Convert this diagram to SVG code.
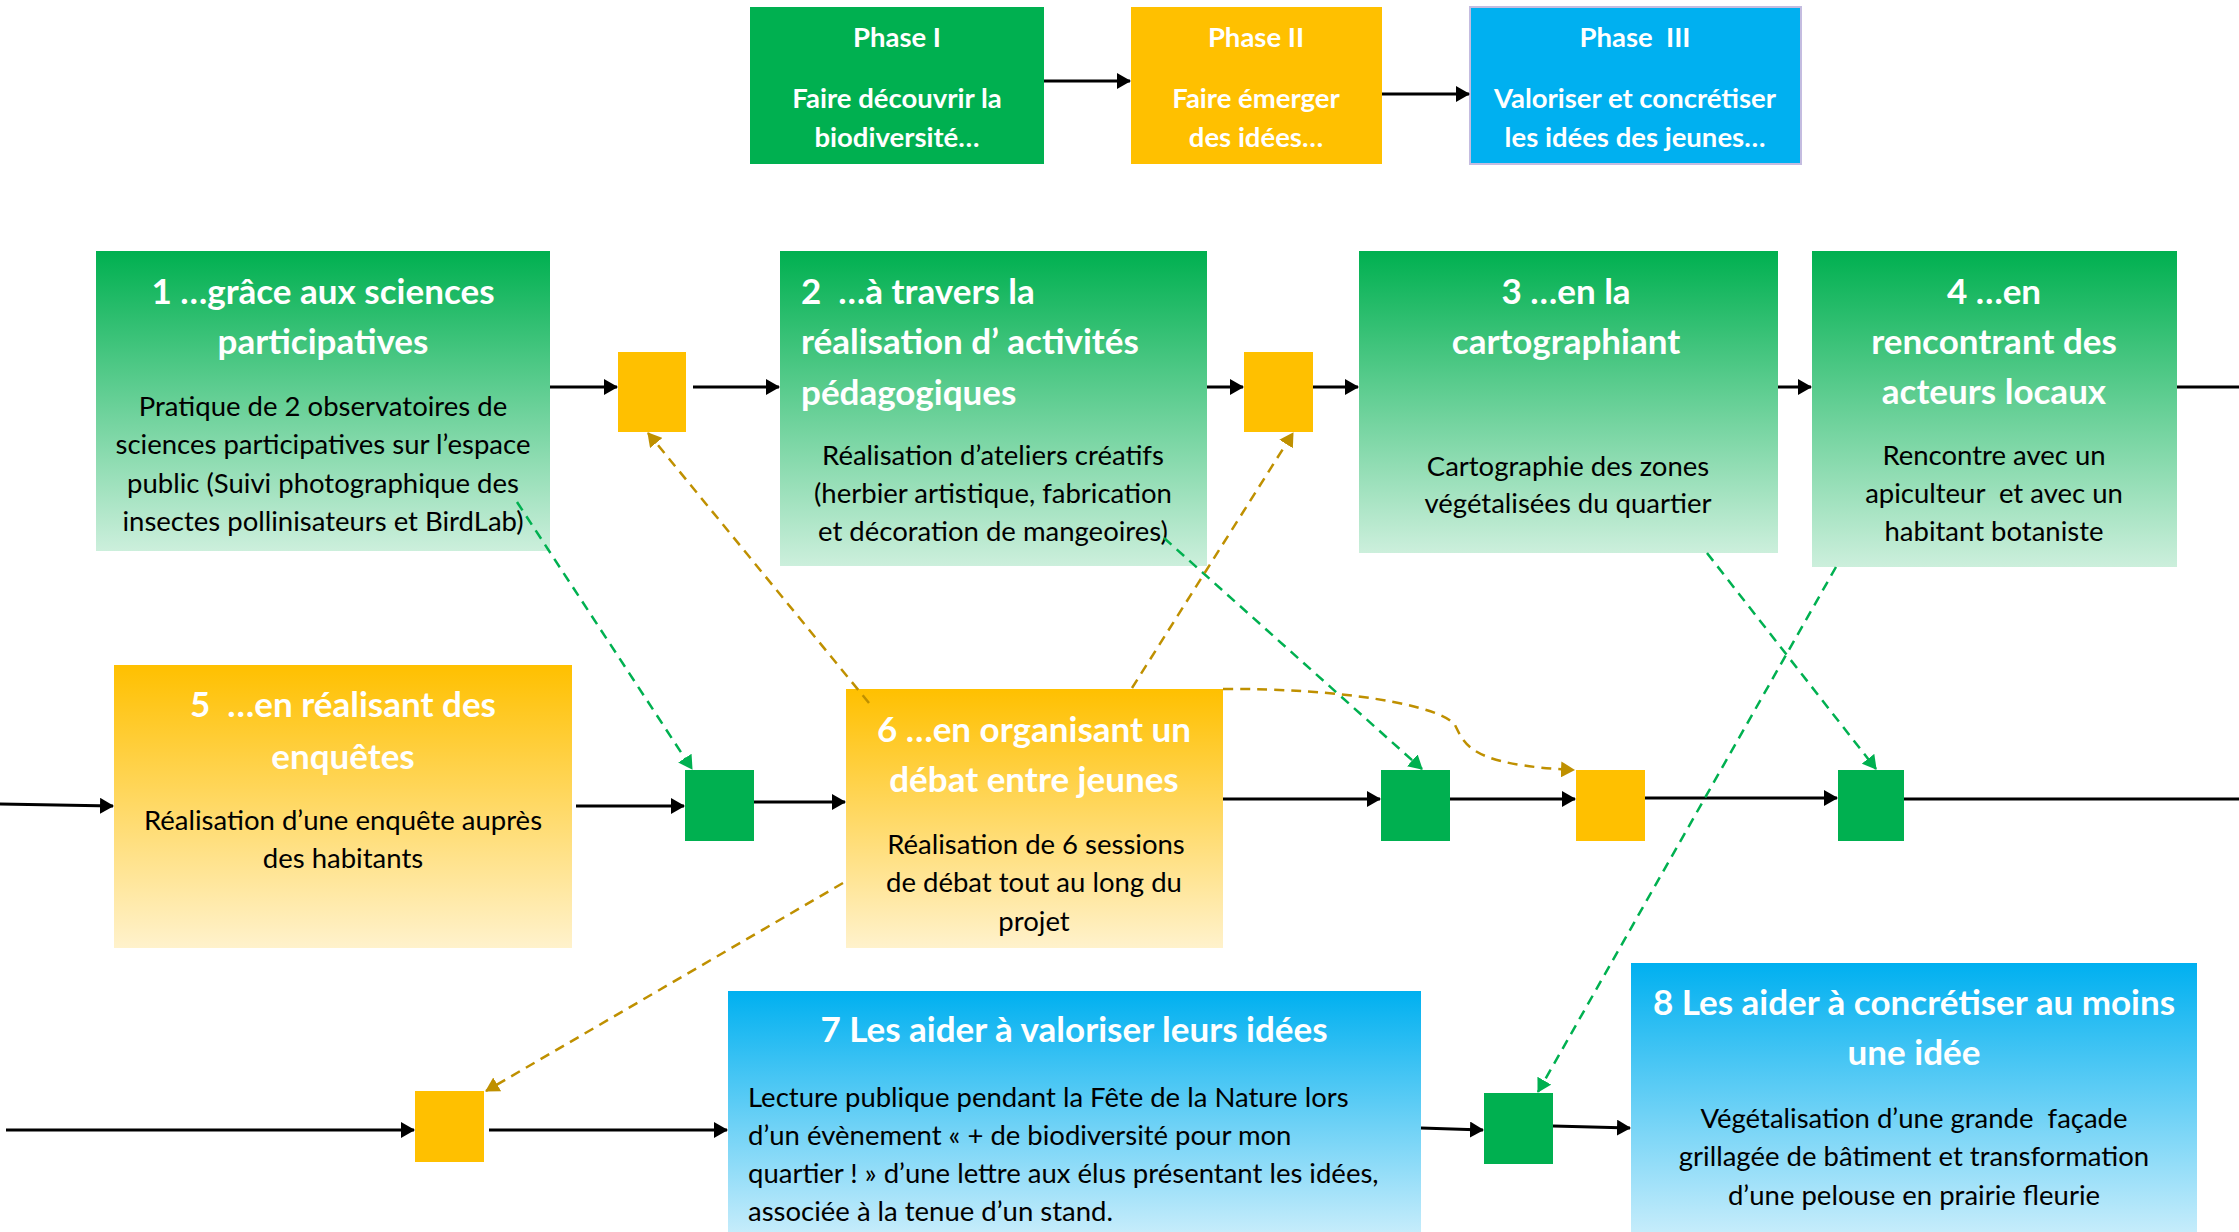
<svg xmlns="http://www.w3.org/2000/svg" width="2239" height="1232" viewBox="0 0 2239 1232">
<defs>
<linearGradient id="gG" x1="0" y1="0" x2="0" y2="1"><stop offset="0" stop-color="#00B050"/><stop offset="1" stop-color="#CCEFDC"/></linearGradient>
<linearGradient id="gY" x1="0" y1="0" x2="0" y2="1"><stop offset="0" stop-color="#FFC000"/><stop offset="1" stop-color="#FFF2CC"/></linearGradient>
<linearGradient id="gB" x1="0" y1="0" x2="0" y2="1"><stop offset="0" stop-color="#00B0F0"/><stop offset="1" stop-color="#C8EDFB"/></linearGradient>
<marker id="ab" markerWidth="14" markerHeight="16" refX="13" refY="8" orient="auto" markerUnits="userSpaceOnUse"><path d="M0,0 L14,8 L0,16 z" fill="#000"/></marker>
<marker id="ag" markerWidth="14" markerHeight="16" refX="13" refY="8" orient="auto" markerUnits="userSpaceOnUse"><path d="M0,0 L14,8 L0,16 z" fill="#00B050"/></marker>
<marker id="ay" markerWidth="14" markerHeight="16" refX="13" refY="8" orient="auto" markerUnits="userSpaceOnUse"><path d="M0,0 L14,8 L0,16 z" fill="#BF9000"/></marker>
</defs>
<style>
text{font-family:Lato,"Liberation Sans",sans-serif;white-space:pre}
.p{font-size:27.5px;font-weight:bold;fill:#fff;text-anchor:middle}
.t{font-size:35px;font-weight:bold;fill:#fff;text-anchor:middle}
.tl{font-size:35px;font-weight:bold;fill:#fff}
.b{font-size:27.5px;fill:#000;text-anchor:middle}
.bl{font-size:27.5px;fill:#000}
.k{stroke:#000;stroke-width:3;fill:none}
.dg{stroke:#00B050;stroke-width:2.5;stroke-dasharray:10 7;fill:none}
.dy{stroke:#BF9000;stroke-width:2.5;stroke-dasharray:10 7;fill:none}
.sg{fill:#00B050}
.sy{fill:#FFC000}
</style>
<rect width="2239" height="1232" fill="#fff"/>

<g id="phase1"><rect x="750" y="7" width="294" height="157" fill="#00B050"/>
<text class="p" x="897" y="47">Phase I</text>
<text class="p" x="897" y="108">Faire découvrir la</text>
<text class="p" x="897" y="147">biodiversité…</text></g>
<g id="phase2"><rect x="1131" y="7" width="251" height="157" fill="#FFC000"/>
<text class="p" x="1256" y="47">Phase II</text>
<text class="p" x="1256" y="108">Faire émerger</text>
<text class="p" x="1256" y="147">des idées…</text></g>
<g id="phase3"><rect x="1470" y="7" width="331" height="157" fill="#00B0F0" stroke="#C4BCE0" stroke-width="2"/>
<text class="p" x="1635" y="47">Phase  III</text>
<text class="p" x="1635" y="108">Valoriser et concrétiser</text>
<text class="p" x="1635" y="147">les idées des jeunes…</text></g>

<g id="n1"><rect x="96" y="251" width="454" height="300" fill="url(#gG)"/>
<text class="t" x="323" y="304">1 …grâce aux sciences</text>
<text class="t" x="323" y="354">participatives</text>
<text class="b" x="323" y="416">Pratique de 2 observatoires de</text>
<text class="b" x="323" y="454">sciences participatives sur l’espace</text>
<text class="b" x="323" y="493">public (Suivi photographique des</text>
<text class="b" x="323" y="531">insectes pollinisateurs et BirdLab)</text></g>
<g id="n2"><rect x="780" y="251" width="427" height="315" fill="url(#gG)"/>
<text class="tl" x="801" y="304">2  …à travers la</text>
<text class="tl" x="801" y="354">réalisation d’ activités</text>
<text class="tl" x="801" y="405">pédagogiques</text>
<text class="b" x="993" y="465">Réalisation d’ateliers créatifs</text>
<text class="b" x="993" y="503">(herbier artistique, fabrication</text>
<text class="b" x="993" y="541">et décoration de mangeoires)</text></g>
<g id="n3"><rect x="1359" y="251" width="419" height="302" fill="url(#gG)"/>
<text class="t" x="1566" y="304">3 …en la</text>
<text class="t" x="1566" y="354">cartographiant</text>
<text class="b" x="1568" y="476">Cartographie des zones</text>
<text class="b" x="1568" y="513">végétalisées du quartier</text></g>
<g id="n4"><rect x="1812" y="251" width="365" height="316" fill="url(#gG)"/>
<text class="t" x="1994" y="304">4 …en</text>
<text class="t" x="1994" y="354">rencontrant des</text>
<text class="t" x="1994" y="404">acteurs locaux</text>
<text class="b" x="1994" y="465">Rencontre avec un</text>
<text class="b" x="1994" y="503">apiculteur  et avec un</text>
<text class="b" x="1994" y="541">habitant botaniste</text></g>
<g id="n5"><rect x="114" y="665" width="458" height="283" fill="url(#gY)"/>
<text class="t" x="343" y="717">5  …en réalisant des</text>
<text class="t" x="343" y="769">enquêtes</text>
<text class="b" x="343" y="830">Réalisation d’une enquête auprès</text>
<text class="b" x="343" y="868">des habitants</text></g>
<g id="n6"><rect x="846" y="689" width="377" height="259" fill="url(#gY)"/>
<text class="t" x="1034" y="742">6 …en organisant un</text>
<text class="t" x="1034" y="792">débat entre jeunes</text>
<text class="b" x="1036" y="854">Réalisation de 6 sessions</text>
<text class="b" x="1034" y="892">de débat tout au long du</text>
<text class="b" x="1034" y="931">projet</text></g>
<g id="n7"><rect x="728" y="991" width="693" height="245" fill="url(#gB)"/>
<text class="t" x="1074" y="1042">7 Les aider à valoriser leurs idées</text>
<text class="bl" x="748" y="1107">Lecture publique pendant la Fête de la Nature lors</text>
<text class="bl" x="748" y="1145">d’un évènement « + de biodiversité pour mon</text>
<text class="bl" x="748" y="1183">quartier ! » d’une lettre aux élus présentant les idées,</text>
<text class="bl" x="748" y="1221">associée à la tenue d’un stand.</text></g>
<g id="n8"><rect x="1631" y="963" width="566" height="273" fill="url(#gB)"/>
<text class="t" x="1914" y="1015">8 Les aider à concrétiser au moins</text>
<text class="t" x="1914" y="1065">une idée</text>
<text class="b" x="1914" y="1128">Végétalisation d’une grande  façade</text>
<text class="b" x="1914" y="1166">grillagée de bâtiment et transformation</text>
<text class="b" x="1914" y="1205">d’une pelouse en prairie fleurie</text></g>

<g id="sqA"><rect class="sy" x="618" y="352" width="68" height="80"/></g>
<g id="sqB"><rect class="sy" x="1244" y="352" width="69" height="80"/></g>
<g id="sqC"><rect class="sg" x="685" y="770" width="69" height="71"/></g>
<g id="sqD"><rect class="sg" x="1381" y="770" width="69" height="71"/></g>
<g id="sqE"><rect class="sy" x="1576" y="770" width="69" height="71"/></g>
<g id="sqF"><rect class="sg" x="1838" y="770" width="66" height="71"/></g>
<g id="sqG"><rect class="sg" x="1484" y="1093" width="69" height="71"/></g>
<g id="sqH"><rect class="sy" x="415" y="1091" width="69" height="71"/></g>

<g id="connectors">
<line class="k" x1="1044" y1="81" x2="1130" y2="81" marker-end="url(#ab)"/>
<line class="k" x1="1382" y1="94" x2="1469" y2="94" marker-end="url(#ab)"/>
<line class="k" x1="550" y1="387" x2="617" y2="387" marker-end="url(#ab)"/>
<line class="k" x1="693" y1="387" x2="779" y2="387" marker-end="url(#ab)"/>
<line class="k" x1="1207" y1="387" x2="1243" y2="387" marker-end="url(#ab)"/>
<line class="k" x1="1313" y1="387" x2="1358" y2="387" marker-end="url(#ab)"/>
<line class="k" x1="1778" y1="387" x2="1811" y2="387" marker-end="url(#ab)"/>
<line class="k" x1="2177" y1="387" x2="2239" y2="387"/>
<line class="k" x1="0" y1="804" x2="113" y2="806" marker-end="url(#ab)"/>
<line class="k" x1="576" y1="806" x2="684" y2="806" marker-end="url(#ab)"/>
<line class="k" x1="754" y1="802" x2="845" y2="802" marker-end="url(#ab)"/>
<line class="k" x1="1223" y1="799" x2="1380" y2="799" marker-end="url(#ab)"/>
<line class="k" x1="1450" y1="799" x2="1575" y2="799" marker-end="url(#ab)"/>
<line class="k" x1="1645" y1="798" x2="1837" y2="798" marker-end="url(#ab)"/>
<line class="k" x1="1904" y1="799" x2="2239" y2="799"/>
<line class="k" x1="6" y1="1130" x2="414" y2="1130" marker-end="url(#ab)"/>
<line class="k" x1="489" y1="1130" x2="727" y2="1130" marker-end="url(#ab)"/>
<line class="k" x1="1421" y1="1128" x2="1483" y2="1130" marker-end="url(#ab)"/>
<line class="k" x1="1553" y1="1126" x2="1630" y2="1128" marker-end="url(#ab)"/>
<line class="dg" x1="517" y1="502" x2="692" y2="769" marker-end="url(#ag)"/>
<line class="dg" x1="1164" y1="538" x2="1422" y2="769" marker-end="url(#ag)"/>
<line class="dg" x1="1707" y1="553" x2="1876" y2="769" marker-end="url(#ag)"/>
<line class="dg" x1="1836" y1="567" x2="1538" y2="1092" marker-end="url(#ag)"/>
<line class="dy" x1="869" y1="703" x2="648" y2="433" marker-end="url(#ay)"/>
<line class="dy" x1="1132" y1="688" x2="1293" y2="433" marker-end="url(#ay)"/>
<line class="dy" x1="843" y1="883" x2="486" y2="1091" marker-end="url(#ay)"/>
<path class="dy" d="M1223,689 C1340,688 1440,705 1455,725 C1465,745 1470,765 1574,770" marker-end="url(#ay)"/>
</g>
</svg>
